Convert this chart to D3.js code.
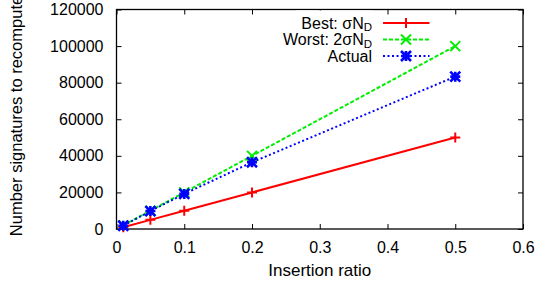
<!DOCTYPE html>
<html><head><meta charset="utf-8">
<script src="https://cdn.jsdelivr.net/npm/d3@7"></script>
<style>body{margin:0;background:#fff}svg{display:block}text{font-family:"Liberation Sans",Arial,sans-serif;fill:#000}</style>
</head><body><svg id="c" width="539" height="285"></svg>
<script>
const xVals = [0.01, 0.05, 0.1, 0.2, 0.5];
const best = [1000, 5000, 10000, 20000, 50000];
const worst = [2000, 10000, 20000, 40000, 100000];
const actual = [1800, 9800, 19200, 36500, 83300];
const xTicks = [0, 0.1, 0.2, 0.3, 0.4, 0.5, 0.6];
const yTicks = [0, 20000, 40000, 60000, 80000, 100000, 120000];

const L = 116.5, R = 523, T = 9.5, B = 229;
const svg = d3.select("#c");
const x = d3.scaleLinear().domain([0, 0.6]).range([L, R]);
const y = d3.scaleLinear().domain([0, 120000]).range([B, T]);

const tl = 5;
svg.append("g").attr("transform", `translate(0,${B})`)
  .call(d3.axisBottom(x).tickValues(xTicks).tickSize(-tl).tickPadding(tl + 8).tickFormat(d3.format("")))
  .call(g => { g.select(".domain").remove(); g.selectAll("text").attr("font-size", 16).attr("font-family", "Liberation Sans, Arial, sans-serif"); });
svg.append("g").attr("transform", `translate(${L},0)`)
  .call(d3.axisLeft(y).tickValues(yTicks).tickSize(-tl).tickPadding(tl + 8).tickFormat(d3.format("d")))
  .call(g => { g.select(".domain").remove(); g.selectAll("text").attr("font-size", 16).attr("font-family", "Liberation Sans, Arial, sans-serif"); });
svg.append("g").attr("transform", `translate(0,${T})`)
  .call(d3.axisTop(x).tickValues(xTicks).tickSize(-tl).tickFormat(""))
  .call(g => g.select(".domain").remove());
svg.append("g").attr("transform", `translate(${R},0)`)
  .call(d3.axisRight(y).tickValues(yTicks).tickSize(-tl).tickFormat(""))
  .call(g => g.select(".domain").remove());
svg.selectAll(".tick line").attr("stroke", "#000").attr("stroke-width", 1);

svg.append("rect").attr("x", L).attr("y", T).attr("width", R - L).attr("height", B - T)
  .attr("fill", "none").attr("stroke", "#000").attr("stroke-width", 1.3);

svg.append("text").attr("x", (L + R) / 2).attr("y", 276).attr("text-anchor", "middle")
  .attr("font-size", 17).text("Insertion ratio");
svg.append("text").attr("transform", "translate(21.5,116) rotate(-90)").attr("text-anchor", "middle")
  .attr("font-size", 16.5).text("Number signatures to recompute");

const series = [
  { name: "Best", vals: best, color: "#ff0000", dash: null, marker: "plus", label: ["Best: σN", "D"] },
  { name: "Worst", vals: worst, color: "#00ee00", dash: "4,2", marker: "x", label: ["Worst: 2σN", "D"] },
  { name: "Actual", vals: actual, color: "#0000ff", dash: "2,2.5", marker: "star", label: ["Actual", ""] }
];

function drawMarker(g, type, cx, cy, color) {
  const s = 5;
  const p = d3.path();
  if (type === "plus" || type === "star") { p.moveTo(cx - s, cy); p.lineTo(cx + s, cy); p.moveTo(cx, cy - s); p.lineTo(cx, cy + s); }
  if (type === "x" || type === "star") { p.moveTo(cx - s, cy - s); p.lineTo(cx + s, cy + s); p.moveTo(cx - s, cy + s); p.lineTo(cx + s, cy - s); }
  g.append("path").attr("d", p.toString()).attr("stroke", color).attr("stroke-width", type === "star" ? 2.6 : 2).attr("fill", "none");
}

const line = d3.line().x(d => x(d[0])).y(d => y(d[1]));
const legX = 372, legRows = [23, 39.5, 56];
svg.append("rect").attr("x", 296).attr("y", T + 1).attr("width", 77).attr("height", 56).attr("fill", "#fff");

series.forEach((s, i) => {
  const pts = xVals.map((xv, j) => [xv, s.vals[j]]);
  svg.append("path").attr("d", line(pts)).attr("fill", "none").attr("stroke", s.color)
    .attr("stroke-width", 2).attr("stroke-dasharray", s.dash);
  const g = svg.append("g");
  pts.forEach(p => drawMarker(g, s.marker, x(p[0]), y(p[1]), s.color));
  const ly = legRows[i];
  const t = svg.append("text").attr("x", legX).attr("y", ly + 5.5).attr("text-anchor", "end").attr("font-size", 16);
  t.append("tspan").text(s.label[0]);
  if (s.label[1]) t.append("tspan").attr("font-size", 11.5).attr("dy", 2.5).text(s.label[1]);
  svg.append("line").attr("x1", 383).attr("x2", 429.5).attr("y1", ly).attr("y2", ly)
    .attr("stroke", s.color).attr("stroke-width", 2).attr("stroke-dasharray", s.dash);
  drawMarker(svg, s.marker, 406, ly, s.color);
});
</script></body></html>
